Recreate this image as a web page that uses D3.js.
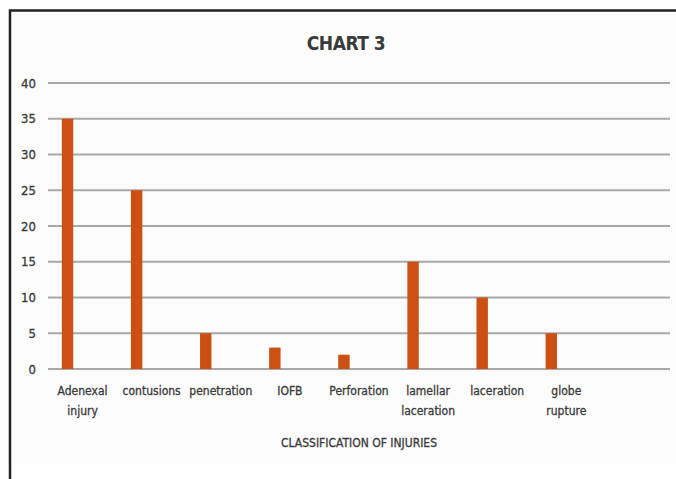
<!DOCTYPE html>
<html>
<head>
<meta charset="utf-8">
<script src="https://cdn.jsdelivr.net/npm/d3@7"></script>
<style>
  body { margin: 0; background: #fff; }
  svg text { font-family: "Liberation Sans Narrow", "DejaVu Sans Condensed", "Open Sans", sans-serif; fill: #3a3a3a; }
</style>
</head>
<body>
<svg id="chart" width="676" height="479"></svg>
<script>
const categories = ['Adenexal\ninjury', 'contusions', 'penetration', 'IOFB', 'Perforation', 'lamellar\nlaceration', 'laceration', 'globe\nrupture', '']
const values = [35, 25, 5, 3, 2, 15, 10, 5]
const yTicks = [0, 5, 10, 15, 20, 25, 30, 35, 40]

const svg = d3.select('#chart')

// outer frame like the cropped figure
svg.append('rect')
  .attr('x', 13).attr('y', 12).attr('width', 663).attr('height', 452)
  .attr('fill', '#fcfcfc')
svg.append('path')
  .attr('d', 'M10,479 V10.5 H676')
  .attr('fill', 'none').attr('stroke', '#222').attr('stroke-width', 2.5)

const m = { left: 48, right: 670, top: 83, bottom: 369 }

const x = d3.scaleBand()
  .domain(categories.map((c, i) => i))
  .range([m.left, m.right])

const y = d3.scaleLinear()
  .domain([0, 40])
  .range([m.bottom, m.top])

// gridlines
svg.append('g')
  .selectAll('line')
  .data(yTicks)
  .join('line')
  .attr('x1', m.left).attr('x2', m.right)
  .attr('y1', d => y(d)).attr('y2', d => y(d))
  .attr('stroke', '#a8a8a8').attr('stroke-width', 1.8)

// y tick labels
svg.append('g')
  .selectAll('text')
  .data(yTicks)
  .join('text')
  .attr('x', 36)
  .attr('y', d => y(d) + 4.5)
  .attr('text-anchor', 'end')
  .attr('font-size', 13)
  .attr('stroke', '#3a3a3a').attr('stroke-width', 0.3)
  .text(d => d)

// bars sit left in each category slot
const bw = x.bandwidth()
svg.append('g')
  .selectAll('rect')
  .data(values)
  .join('rect')
  .attr('x', (d, i) => x(i) + bw * 0.2)
  .attr('width', bw * 0.165)
  .attr('y', d => y(d))
  .attr('height', d => y(0) - y(d))
  .attr('fill', '#cc4f14')

// category labels
const lab = svg.append('g')
  .selectAll('text')
  .data(categories)
  .join('text')
  .attr('x', (d, i) => x(i) + bw / 2)
  .attr('y', 395)
  .attr('text-anchor', 'middle')
  .attr('font-size', 12)
  .attr('stroke', '#3a3a3a').attr('stroke-width', 0.3)

lab.selectAll('tspan')
  .data(d => d.split('\n'))
  .join('tspan')
  .attr('x', function () { return d3.select(this.parentNode).attr('x') })
  .attr('dy', (d, i) => i ? 20 : 0)
  .text(d => d)

svg.append('text')
  .attr('x', (m.left + m.right) / 2)
  .attr('y', 447)
  .attr('text-anchor', 'middle')
  .attr('font-size', 12)
  .attr('stroke', '#3a3a3a').attr('stroke-width', 0.3)
  .text('CLASSIFICATION  OF INJURIES')

svg.append('text')
  .attr('x', 346)
  .attr('y', 50)
  .attr('text-anchor', 'middle')
  .attr('font-size', 19)
  .attr('font-weight', 'bold')
  .attr('letter-spacing', -0.5)
  .text('CHART 3')
</script>
</body>
</html>
